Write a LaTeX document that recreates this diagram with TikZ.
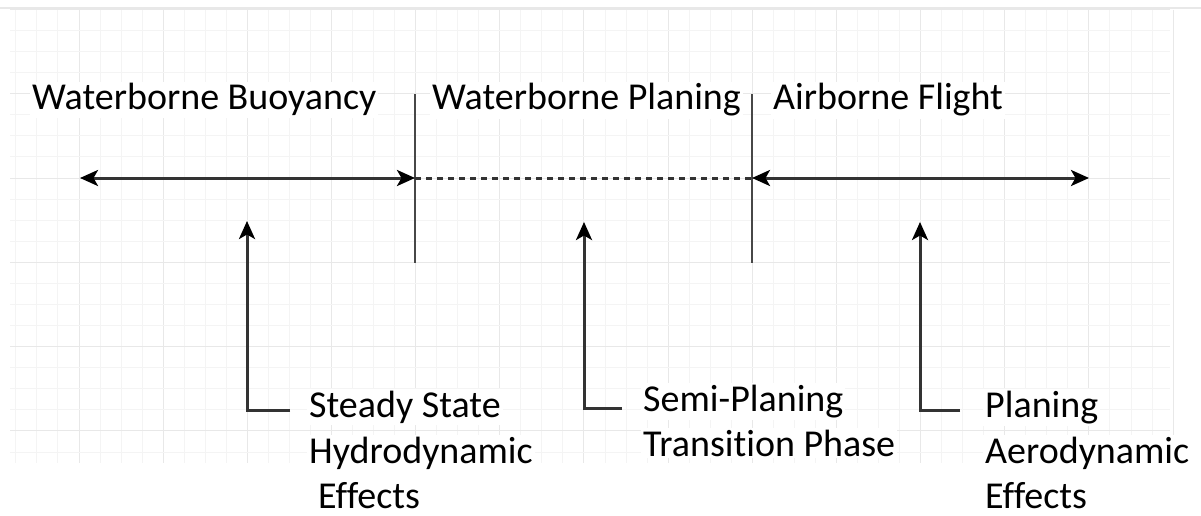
\documentclass[tikz,border=0pt]{standalone}
\usepackage{fontspec}
\setmainfont{Carlito}[Ligatures=NoCommon]
\usetikzlibrary{arrows.meta}
\definecolor{linec}{HTML}{333333}
\definecolor{gridminor}{HTML}{F4F4F4}
\definecolor{gridmajor}{HTML}{E8E8E8}
\tikzset{
  conn/.style={draw=linec, line width=3pt},
  lbl/.style={anchor=base west, inner sep=2pt, fill=white, text=black,
              font=\fontsize{38}{44}\selectfont},
}
\begin{document}
\begin{tikzpicture}[x=1pt,y=-1pt]
\useasboundingbox (0,0) rectangle (1201,516);
\fill[white] (0,0) rectangle (1201,516);
% top edge
\draw[gridmajor, line width=1.5pt] (0,8) -- (1201,8);
% grid
\foreach \k in {-3,...,52}{
  \pgfmathsetmacro\xx{79+21.04*\k}
  \pgfmathtruncatemacro\mm{mod(\k+400,4)}
  \ifnum\mm=0
    \draw[gridmajor, line width=1pt] (\xx,10) -- (\xx,463);
  \else
    \draw[gridminor, line width=1pt] (\xx,10) -- (\xx,463);
  \fi
}
\foreach \k in {-8,...,13}{
  \pgfmathsetmacro\yy{178+21.08*\k}
  \pgfmathtruncatemacro\mm{mod(\k+400,4)}
  \ifnum\mm=0
    \draw[gridmajor, line width=1pt] (10,\yy) -- (1170,\yy);
  \else
    \draw[gridminor, line width=1pt] (10,\yy) -- (1170,\yy);
  \fi
}
% headings
\node[lbl] (wb) at (30,110) {Waterborne Buoyancy};
\node[lbl] (wp) at (430,110) {Waterborne Planing};
\node[lbl] (af) at (771,110) {Airborne Flight};
% phase boundaries
\coordinate (v1t) at (415,94);
\coordinate (v1b) at (415,263);
\coordinate (v1m) at (415,178);
\coordinate (v2t) at (752,94);
\coordinate (v2b) at (752,263);
\coordinate (v2m) at (752,178);
\coordinate (lend) at (80,178);
\coordinate (rend) at (1089,178);
\draw[draw=linec!90!white, line width=2.8pt] (v1t) -- (v1b);
\draw[draw=linec!90!white, line width=2.8pt] (v2t) -- (v2b);
% main axis
\draw[conn, {Stealth[length=18pt,width=16pt,inset=4.5pt,color=black]}-{Stealth[length=18pt,width=16pt,inset=4.5pt,color=black]}] (lend) -- (v1m);
\draw[conn, dash pattern=on 6pt off 5pt] (v1m) -- (v2m);
\draw[conn, {Stealth[length=18pt,width=16pt,inset=4.5pt,color=black]}-{Stealth[length=18pt,width=16pt,inset=4.5pt,color=black]}] (v2m) -- (rend);
% bottom labels
\node[lbl] (s1) at (307,417) {Steady State};
\node[lbl] (s2) at (307,463) {Hydrodynamic};
\node[lbl] (s3) at (316,508) {Effects};
\node[lbl] (t1) at (641,411) {Semi-Planing};
\node[lbl] (t2) at (641,456) {Transition Phase};
\node[lbl] (p1) at (983,417) {Planing};
\node[lbl] (p2) at (983,463) {Aerodynamic};
\node[lbl] (p3) at (983,508) {Effects};
% pointers
\coordinate (a1tip) at (247,221);
\coordinate (a1end) at (290,410);
\coordinate (a2tip) at (584,222);
\coordinate (a2end) at (622,408);
\coordinate (a3tip) at (920,222);
\coordinate (a3end) at (960,410);
\draw[conn, -{Stealth[length=18pt,width=16pt,inset=4.5pt,color=black]}] (a1end) -| (a1tip);
\draw[conn, -{Stealth[length=18pt,width=16pt,inset=4.5pt,color=black]}] (a2end) -| (a2tip);
\draw[conn, -{Stealth[length=18pt,width=16pt,inset=4.5pt,color=black]}] (a3end) -| (a3tip);
\end{tikzpicture}
\end{document}
